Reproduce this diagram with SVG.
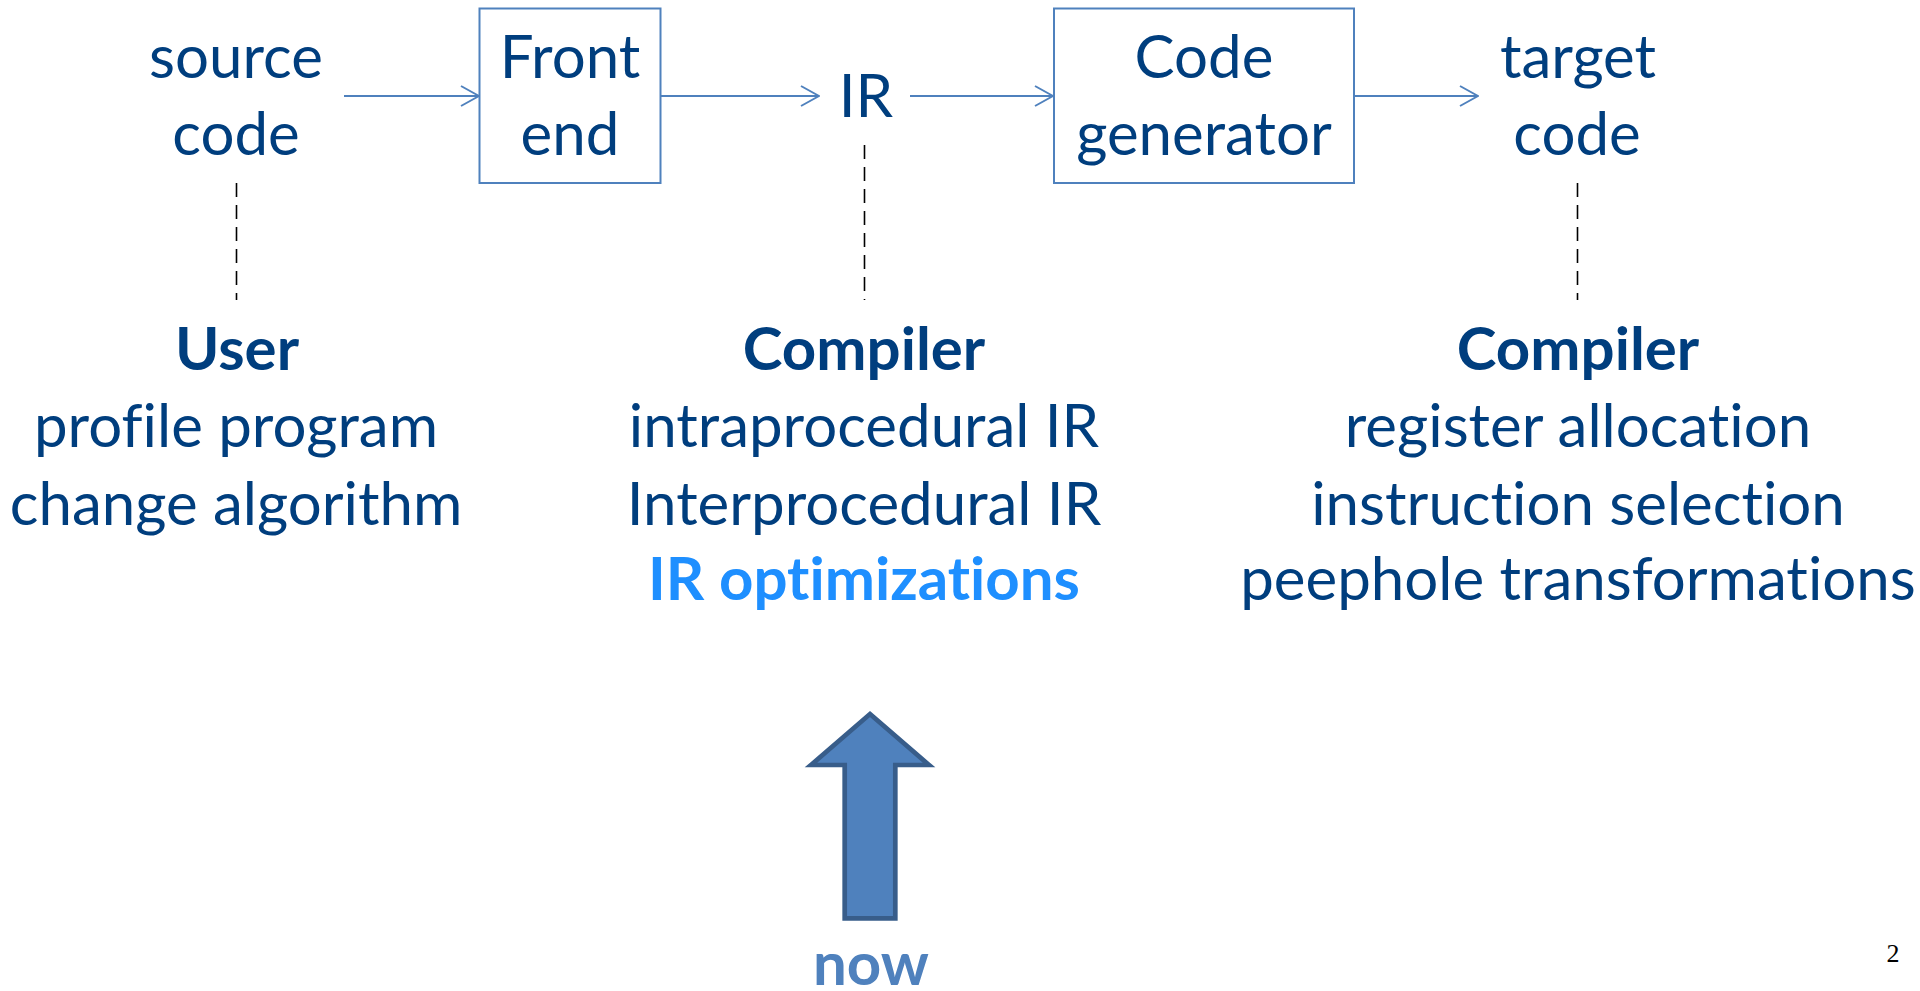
<svg xmlns="http://www.w3.org/2000/svg" width="1920" height="991" viewBox="0 0 1920 991">
  <style>
    text { font-family: Lato, "Open Sans", "Liberation Sans", sans-serif; text-anchor: middle; font-variant-ligatures: none; }
    .t { font-size: 60px; fill: #003E7E; }
    .b { font-weight: bold; }
    .hl { fill: #1E8FFF; }
    .box { fill: none; stroke: #4F81BD; stroke-width: 2; }
    .flow { fill: none; stroke: #4F81BD; stroke-width: 2; marker-end: url(#chev); }
    .dash { fill: none; stroke: #000; stroke-width: 1.6; stroke-dasharray: 14 8; }
  </style>
  <defs>
    <marker id="chev" markerWidth="20" markerHeight="24" refX="19" refY="12" orient="auto" markerUnits="userSpaceOnUse">
      <path d="M1,2 L19,12 L1,22" fill="none" stroke="#4F81BD" stroke-width="2"/>
    </marker>
  </defs>
  <rect width="1920" height="991" fill="#fff"/>

  <!-- pipeline -->
  <g id="source">
    <text class="t" x="236" y="78">source</text>
    <text class="t" x="236" y="155">code</text>
  </g>
  <g id="frontend">
    <rect class="box" x="479.5" y="8.5" width="181" height="174.5"/>
    <text class="t" x="570" y="78">Front</text>
    <text class="t" x="570" y="155">end</text>
  </g>
  <g id="ir">
    <text class="t" x="866" y="117">IR</text>
  </g>
  <g id="codegen">
    <rect class="box" x="1054" y="8.5" width="300" height="174.5"/>
    <text class="t" x="1204" y="78">Code</text>
    <text class="t" x="1204" y="155">generator</text>
  </g>
  <g id="target">
    <text class="t" x="1578" y="78">target</text>
    <text class="t" x="1577" y="155">code</text>
  </g>

  <g id="connectors">
    <line class="flow" x1="344" y1="96" x2="479" y2="96"/>
    <line class="flow" x1="661" y1="96" x2="819" y2="96"/>
    <line class="flow" x1="910" y1="96" x2="1053" y2="96"/>
    <line class="flow" x1="1354" y1="96" x2="1478" y2="96"/>
    <line class="dash" x1="236.5" y1="183" x2="236.5" y2="300"/>
    <line class="dash" x1="864.5" y1="145" x2="864.5" y2="300"/>
    <line class="dash" x1="1577.5" y1="183" x2="1577.5" y2="300"/>
  </g>

  <!-- roles -->
  <g id="user">
    <text class="t b" x="237" y="370">User</text>
    <text class="t" x="236" y="447">profile program</text>
    <text class="t" x="236" y="525">change algorithm</text>
  </g>
  <g id="compiler-ir">
    <text class="t b" x="864" y="370">Compiler</text>
    <text class="t" x="864" y="447">intraprocedural IR</text>
    <text class="t" x="864" y="525">Interprocedural IR</text>
    <text class="t b hl" x="864" y="600">IR optimizations</text>
  </g>
  <g id="compiler-back">
    <text class="t b" x="1578" y="370">Compiler</text>
    <text class="t" x="1578" y="447">register allocation</text>
    <text class="t" x="1578" y="525">instruction selection</text>
    <text class="t" x="1578" y="600">peephole transformations</text>
  </g>

  <!-- marker arrow -->
  <g id="now">
    <path d="M870,714 L929,765 L895.3,765 L895.3,918.3 L844.7,918.3 L844.7,765 L811,765 Z" fill="#4F81BD" stroke="#385D8A" stroke-width="4.7" stroke-linejoin="miter"/>
    <text class="b" x="871" y="985" style="font-size:60px; fill:#4F81BD">now</text>
  </g>

  <text x="1893" y="962" style="font-family:'Liberation Serif', serif; font-size:26px; fill:#000">2</text>
</svg>
